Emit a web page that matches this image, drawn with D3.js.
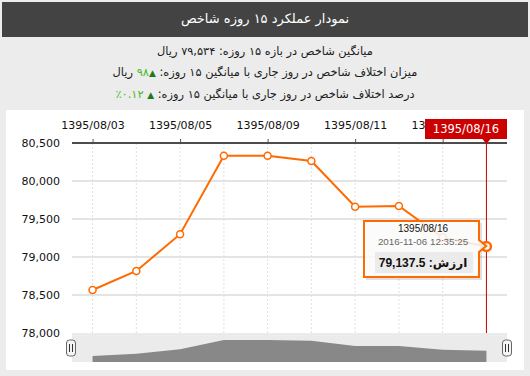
<!DOCTYPE html>
<html lang="fa">
<head>
<meta charset="UTF-8">
<title>نمودار عملکرد ۱۵ روزه شاخص</title>
<script src="https://d3js.org/d3.v7.min.js"></script>
<style>
  body { margin: 0; background: #ececec; font-family: "DejaVu Sans", sans-serif; }
  #wrap { position: relative; width: 530px; height: 376px; overflow: hidden; }
  .title {
    position: absolute; left: 2px; top: 2px; width: 526px; height: 35px;
    background: #434343; color: #fff; font-size: 13px; line-height: 33px; text-align: center;
  }
  .info {
    position: absolute; left: 0; top: 41px; width: 530px;
    font-size: 11.4px; line-height: 21px; text-align: center; color: #1a1a1a;
  }
  .up { color: #1e7a1e; font-size: 9px; }
  .pos { color: #44bb22; }
  svg { position: absolute; left: 0; top: 0; }
</style>
</head>
<body>
<div id="wrap">
  <div class="title" dir="rtl">نمودار عملکرد ۱۵ روزه شاخص</div>
  <div class="info" dir="rtl">
    <div>میانگین شاخص در بازه ۱۵ روزه: ۷۹,۵۳۴ ریال</div>
    <div>میزان اختلاف شاخص در روز جاری با میانگین ۱۵ روزه: <span class="up">▲</span><span class="pos">۹۸</span> ریال</div>
    <div>درصد اختلاف شاخص در روز جاری با میانگین ۱۵ روزه: <span class="up">▲</span> <span class="pos">۰.۱۲٪</span></div>
  </div>
  <div id="chart"></div>
</div>
<script>
// data
const dates = ["1395/08/03", "1395/08/04", "1395/08/05", "1395/08/08", "1395/08/09",
               "1395/08/10", "1395/08/11", "1395/08/12", "1395/08/15", "1395/08/16"];
const values = [78566, 78816, 79300, 80333, 80333, 80263, 79662, 79671, 79255, 79137.5];
const xTickLabels = ["1395/08/03", "1395/08/05", "1395/08/09", "1395/08/11", "1395/08/15"];
const yTicks = [78000, 78500, 79000, 79500, 80000, 80500];
const tipDate = "1395/08/16";
const tipTime = "2016-11-06 12:35:25";
const tipLabel = "ارزش:";

const W = 530, H = 376;
const plotLeft = 72, plotRight = 507, plotTop = 143, plotBottom = 333;
const orange = "#ff6a00";
const tipFont = "'Liberation Sans', 'DejaVu Sans', sans-serif";

const svg = d3.select("#chart").append("svg")
    .attr("width", W).attr("height", H)
    .style("font-family", "'DejaVu Sans', sans-serif");

// white panel
svg.append("rect").attr("x", 6).attr("y", 110).attr("width", 518).attr("height", 260).attr("fill", "#fff");

const x = d3.scalePoint().domain(dates).range([plotLeft, plotRight]).padding(0.47);
const y = d3.scaleLinear().domain([78000, 80500]).range([plotBottom, plotTop]);

// horizontal grid
svg.append("g").selectAll("line")
    .data(yTicks.filter(d => d > 78000 && d < 80500))
    .join("line")
    .attr("x1", plotLeft).attr("x2", plotRight)
    .attr("y1", d => y(d)).attr("y2", d => y(d))
    .attr("stroke", "#e4e4e4").attr("stroke-width", 2);

// vertical dashed grid
svg.append("g").selectAll("line")
    .data(dates)
    .join("line")
    .attr("x1", d => x(d)).attr("x2", d => x(d))
    .attr("y1", plotTop).attr("y2", plotBottom)
    .attr("stroke", "#e0e0e0").attr("stroke-dasharray", "2,2");

// top axis
const gx = svg.append("g").attr("transform", `translate(0,${plotTop})`)
    .call(d3.axisTop(x).tickValues(xTickLabels).tickSize(4).tickPadding(10).tickSizeOuter(0));
gx.select(".domain").attr("stroke", "#111").attr("stroke-width", 1.5).attr("d", `M${plotLeft},0H${plotRight}`);
gx.selectAll(".tick line").attr("stroke", "#555");
gx.selectAll("text").attr("font-size", 11).attr("fill", "#111").attr("font-family", "'DejaVu Sans', sans-serif");

// left axis (labels only)
const gy = svg.append("g").attr("transform", `translate(${plotLeft},0)`)
    .call(d3.axisLeft(y).tickValues(yTicks).tickSize(0).tickPadding(12).tickFormat(d3.format(",")));
gy.select(".domain").remove();
gy.selectAll("text").attr("font-size", 11).attr("fill", "#111").attr("font-family", "'DejaVu Sans', sans-serif");

// line + markers
const line = d3.line().x((d, i) => x(dates[i])).y(d => y(d));
svg.append("path").datum(values)
    .attr("d", line).attr("fill", "none")
    .attr("stroke", orange).attr("stroke-width", 2);

svg.append("g").selectAll("circle")
    .data(values.slice(0, -1))
    .join("circle")
    .attr("cx", (d, i) => x(dates[i])).attr("cy", d => y(d))
    .attr("r", 3.5).attr("fill", "#fff")
    .attr("stroke", orange).attr("stroke-width", 1.5);

// crosshair on the last point
const last = values.length - 1;
const cx = x(dates[last]), cy = y(values[last]);
svg.append("line")
    .attr("x1", cx).attr("x2", cx).attr("y1", plotTop).attr("y2", plotBottom)
    .attr("stroke", "#cc0000").attr("stroke-width", 1);

svg.append("circle").attr("cx", cx).attr("cy", cy).attr("r", 4.5)
    .attr("fill", "#fff").attr("stroke", orange).attr("stroke-width", 2.5);

// red date label (covers the tick label under it)
const lab = svg.append("g");
lab.append("path")
    .attr("d", `M425,119H507V139H${cx + 4}L${cx},144L${cx - 4},139H425Z`)
    .attr("fill", "#cc0000");
lab.append("text").attr("x", 466).attr("y", 133)
    .attr("text-anchor", "middle").attr("font-size", 11.5).attr("fill", "#fff")
    .text(dates[last]);

// tooltip
const tip = svg.append("g").style("font-family", tipFont);
tip.append("path")
    .attr("d", "M366,223H482V240L489,246L482,252V280H366Z")
    .attr("fill", "#000").attr("opacity", 0.12);
tip.append("path")
    .attr("d", "M364,221H479V240L486,246L479,252V277H364Z")
    .attr("fill", "#fff").attr("fill-opacity", 0.85)
    .attr("stroke", orange).attr("stroke-width", 2);
tip.append("text").attr("x", 423).attr("y", 232)
    .attr("text-anchor", "middle").attr("font-size", 10).attr("fill", "#111")
    .text(tipDate);
tip.append("text").attr("x", 423).attr("y", 245)
    .attr("text-anchor", "middle").attr("font-size", 9.8).attr("fill", "#666")
    .text(tipTime);
tip.append("rect").attr("x", 375).attr("y", 252).attr("width", 98).attr("height", 21)
    .attr("fill", "#ebebeb");
tip.append("text").attr("x", 423).attr("y", 267)
    .attr("text-anchor", "middle").attr("direction", "rtl")
    .style("direction", "rtl").style("unicode-bidi", "embed")
    .attr("font-size", 12).attr("font-weight", "bold").attr("fill", "#111")
    .text(`${tipLabel} ${d3.format(",")(values[last])}`);

// navigator
const navTop = 333, navBottom = 362;
svg.append("rect").attr("x", plotLeft).attr("y", navTop)
    .attr("width", plotRight - plotLeft).attr("height", navBottom - navTop)
    .attr("fill", "#ebebeb");
const yn = d3.scaleLinear().domain(d3.extent(values)).range([356, 340]);
const area = d3.area().x((d, i) => x(dates[i])).y0(navBottom).y1(d => yn(d));
svg.append("path").datum(values).attr("d", area).attr("fill", "#888");

// handles
[plotLeft - 1, plotRight].forEach(hx => {
    const h = svg.append("g").attr("transform", `translate(${hx},348)`);
    h.append("rect").attr("x", -4.5).attr("y", -8).attr("width", 9).attr("height", 16)
        .attr("rx", 3).attr("fill", "#f4f4f4").attr("stroke", "#666");
    h.append("line").attr("x1", -1.5).attr("x2", -1.5).attr("y1", -4).attr("y2", 4).attr("stroke", "#333");
    h.append("line").attr("x1", 1.5).attr("x2", 1.5).attr("y1", -4).attr("y2", 4).attr("stroke", "#333");
});
</script>
</body>
</html>
